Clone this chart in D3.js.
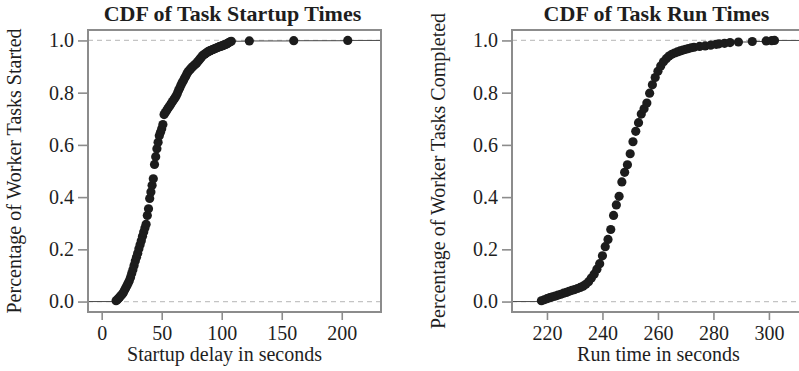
<!DOCTYPE html>
<html>
<head>
<meta charset="utf-8">
<script src="https://cdn.jsdelivr.net/npm/d3@7"></script>
<style>
  body { margin: 0; background: #fff; }
  svg { display: block; }
  text { font-family: "Liberation Serif", "DejaVu Serif", serif; fill: #1e1e1e; }
</style>
</head>
<body>
<svg id="chart" width="799" height="371"></svg>
<script>
// ECDF of task startup delays (seconds, fraction started)
const startupSeconds = [12, 13, 14, 15, 16, 17, 18, 19, 20, 21, 22, 23, 24, 25, 26, 27, 28, 29, 30, 31,
  32, 33, 34, 35, 36, 37, 38, 39, 40, 41, 42, 43, 44, 45, 46, 47, 48, 49, 50, 51,
  52, 53, 54, 55, 56, 57, 58, 59, 60, 61, 62, 63, 64, 65, 66, 67, 68, 69, 70, 71,
  72, 73, 74, 75, 76, 77, 78, 79, 80, 81, 82, 83, 84, 85, 86, 87, 88, 89, 90, 91,
  92, 93, 94, 95, 96, 97, 98, 99, 100, 101, 102, 103, 104, 105, 106, 107, 108, 123, 160, 205]
const startupCdf = [0.003, 0.007, 0.012, 0.017, 0.022, 0.028, 0.034, 0.043, 0.052, 0.061,
  0.070, 0.080, 0.092, 0.107, 0.122, 0.138, 0.155, 0.170, 0.185, 0.202,
  0.218, 0.233, 0.250, 0.266, 0.282, 0.296, 0.330, 0.355, 0.395, 0.420,
  0.445, 0.470, 0.525, 0.555, 0.585, 0.610, 0.635, 0.648, 0.662, 0.678,
  0.716, 0.724, 0.731, 0.738, 0.745, 0.752, 0.759, 0.766, 0.773, 0.780,
  0.787, 0.797, 0.808, 0.818, 0.828, 0.838, 0.846, 0.855, 0.863, 0.872,
  0.880, 0.886, 0.891, 0.895, 0.900, 0.905, 0.909, 0.913, 0.918, 0.924,
  0.930, 0.936, 0.941, 0.945, 0.948, 0.952, 0.955, 0.958, 0.960, 0.962,
  0.964, 0.966, 0.968, 0.970, 0.972, 0.974, 0.976, 0.977, 0.979, 0.981,
  0.983, 0.984, 0.986, 0.989, 0.992, 0.995, 0.997, 0.998, 0.999, 1.0]

// ECDF of task run times
const runSeconds = [218, 219, 220, 221, 222, 223, 224, 225, 226, 227, 228, 229, 230, 231, 232, 233,
  234, 235, 236, 237, 238, 239, 240, 241, 242, 243, 244, 245, 246, 247, 248, 249,
  250, 251, 252, 253, 254, 255, 256, 257, 258, 259, 260, 261, 262, 263, 264, 265,
  266, 267, 268, 269, 270, 271, 272, 273, 275, 277, 279, 281, 282, 284, 286, 289,
  294, 299, 301, 302]
const runCdf = [0.003, 0.007, 0.011, 0.015, 0.018, 0.021, 0.025, 0.028, 0.032, 0.035,
  0.039, 0.043, 0.046, 0.050, 0.054, 0.059, 0.066, 0.076, 0.090, 0.105,
  0.124, 0.145, 0.175, 0.210, 0.238, 0.276, 0.330, 0.370, 0.403, 0.458,
  0.495, 0.524, 0.566, 0.612, 0.652, 0.685, 0.718, 0.738, 0.760, 0.798,
  0.830, 0.858, 0.882, 0.902, 0.918, 0.930, 0.940, 0.947, 0.952, 0.956,
  0.960, 0.963, 0.966, 0.969, 0.972, 0.974, 0.977, 0.979, 0.982, 0.985,
  0.987, 0.989, 0.992, 0.994, 0.996, 0.998, 0.999, 1.0]

const startupTicks = [0, 50, 100, 150, 200]
const runTicks = [220, 240, 260, 280, 300]
const cdfTicks = [0, 0.2, 0.4, 0.6, 0.8, 1.0]

var svg = d3.select("#chart")

drawPanel({
    left: 88, width: 293,
    xDomain: [-11.4, 232.7],
    xs: startupSeconds, ys: startupCdf, xTicks: startupTicks,
    title: "CDF of Task Startup Times",
    xTitle: "Startup delay in seconds", xTitleShift: -10,
    yTitle: "Percentage of Worker Tasks Started", yTitleX: 21
})

drawPanel({
    left: 512, width: 293,
    xDomain: [207.4, 313.0],
    xs: runSeconds, ys: runCdf, xTicks: runTicks,
    title: "CDF of Task Run Times",
    xTitle: "Run time in seconds", xTitleShift: 0,
    yTitle: "Percentage of Worker Tasks Completed", yTitleX: 445
})

function drawPanel(p) {
    var top = 30, bottom = 312
    var x = d3.scaleLinear().domain(p.xDomain).range([p.left, p.left + p.width])
    var y = d3.scaleLinear().domain([-0.04, 1.04]).range([bottom, top])
    var g = svg.append("g")

    // dashed reference lines at 0 and 1
    g.selectAll(".ref")
        .data([0, 1])
        .enter()
        .append("line")
        .attr("x1", p.left).attr("x2", p.left + p.width)
        .attr("y1", d => y(d)).attr("y2", d => y(d))
        .attr("stroke", "#c4c4c4")
        .attr("stroke-width", 1.2)
        .attr("stroke-dasharray", "5,4")

    // horizontal step segments of the ecdf
    var pts = p.xs.map((v, i) => [v, p.ys[i]])
    var steps = [[p.xDomain[0], pts[0][0], 0]]
    for (var i = 0; i < pts.length - 1; i++) {
        steps.push([pts[i][0], pts[i + 1][0], pts[i][1]])
    }
    steps.push([pts[pts.length - 1][0], p.xDomain[1], 1])

    g.selectAll(".step")
        .data(steps)
        .enter()
        .append("line")
        .attr("x1", d => x(d[0])).attr("x2", d => x(d[1]))
        .attr("y1", d => y(d[2])).attr("y2", d => y(d[2]))
        .attr("stroke", "#4a4a4a")
        .attr("stroke-width", 1)

    g.selectAll(".dot")
        .data(pts)
        .enter()
        .append("circle")
        .attr("cx", d => x(d[0]))
        .attr("cy", d => y(d[1]))
        .attr("r", 4.6)
        .attr("fill", "#1c1c1c")

    // frame
    g.append("rect")
        .attr("x", p.left).attr("y", top)
        .attr("width", p.width).attr("height", bottom - top)
        .attr("fill", "none")
        .attr("stroke", "#8c8c8c")
        .attr("stroke-width", 2)

    var xAxis = d3.axisBottom(x).tickValues(p.xTicks).tickSize(8).tickPadding(6).tickFormat(d3.format("d"))
    var xg = g.append("g").attr("transform", "translate(0," + bottom + ")").call(xAxis)
    xg.select(".domain").remove()

    var yAxis = d3.axisLeft(y).tickValues(cdfTicks).tickSize(10).tickPadding(4).tickFormat(d3.format(".1f"))
    var yg = g.append("g").attr("transform", "translate(" + p.left + ",0)").call(yAxis)
    yg.select(".domain").remove()

    g.selectAll(".tick line").attr("stroke", "#8c8c8c").attr("stroke-width", 1.6)
    g.selectAll(".tick text")
        .attr("font-family", "Liberation Serif, serif")
        .attr("font-size", 20)
        .attr("fill", "#1a1a1a")

    g.append("text")
        .attr("x", p.left + p.width / 2 - 2)
        .attr("y", 21)
        .attr("text-anchor", "middle")
        .attr("font-size", 22)
        .attr("font-weight", "bold")
        .text(p.title)

    g.append("text")
        .attr("x", p.left + p.width / 2 + p.xTitleShift)
        .attr("y", 361)
        .attr("text-anchor", "middle")
        .attr("font-size", 20)
        .text(p.xTitle)

    g.append("text")
        .attr("transform", "translate(" + p.yTitleX + "," + ((top + bottom) / 2) + ") rotate(-90)")
        .attr("text-anchor", "middle")
        .attr("font-size", 20)
        .text(p.yTitle)
}
</script>
</body>
</html>
